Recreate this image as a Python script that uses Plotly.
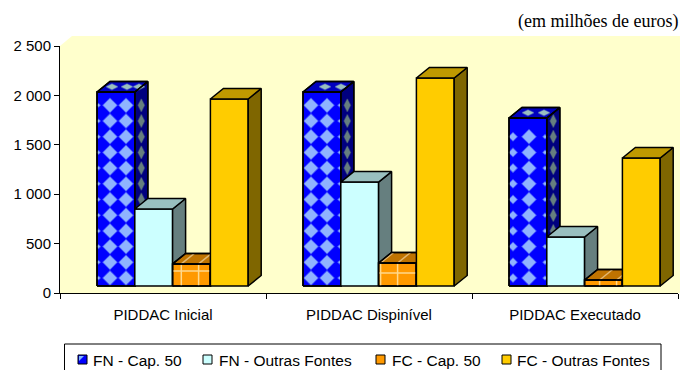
import plotly.graph_objects as go

# Chart data (millions of euros, as read on the value axis)
categories = ["PIDDAC Inicial", "PIDDAC Dispinível", "PIDDAC Executado"]
fn_cap50 = [2034, 2034, 1771]
fn_outras = [850, 1123, 567]
fc_cap50 = [294, 304, 132]
fc_outras = [1964, 2176, 1366]
series_names = ["FN - Cap. 50", "FN - Outras Fontes", "FC - Cap. 50", "FC - Outras Fontes"]
tick_values = [0, 500, 1000, 1500, 2000, 2500]
tick_labels = ["0", "500", "1 000", "1 500", "2 000", "2 500"]
unit_note = "(em milhões de euros)"

series_values = [fn_cap50, fn_outras, fc_cap50, fc_outras]

# Face colours of each series: front, side, top
front_colors = ["#0000FF", "#CCFFFF", "#FF9900", "#FFCC00"]
side_colors = ["#00007F", "#667F7F", "#7F4C00", "#7F6600"]
top_colors = ["#0000BF", "#99BFBF", "#BF7300", "#BF9900"]

# Plot area and the pseudo-3D projection
W, H = 680, 370
M_L, M_R, M_T, M_B = 60, 2, 46, 77
PLOT_W = W - M_L - M_R
PLOT_H = H - M_T - M_B
Y_MAX = 2500
PX_X = PLOT_W / 3.0       # pixels per category
PX_Y = PLOT_H / Y_MAX     # pixels per value unit
BAR_W = 37.8 / PX_X
BAR_START = -66 / PX_X
DEPTH_X = 13 / PX_X
DEPTH_Y = 10.5 / PX_Y
FLOOR = 7 / PX_Y          # bars stand slightly in front of the axis plane


def ux(px):
    return px / PX_X


def uy(px):
    return px / PX_Y


def paper_x(px):
    return (px - M_L) / PLOT_W


def paper_y(py):
    return (H - M_B - py) / PLOT_H


fig = go.Figure()


def polygon(xs, ys, fill, name):
    fig.add_trace(go.Scatter(
        x=xs + xs[:1], y=ys + ys[:1], mode="lines", fill="toself", fillcolor=fill,
        line=dict(color="#000000", width=1.5), name=name, showlegend=False, hoverinfo="skip"))


def outline(xs, ys):
    fig.add_trace(go.Scatter(
        x=xs + xs[:1], y=ys + ys[:1], mode="lines",
        line=dict(color="#000000", width=1.5), showlegend=False, hoverinfo="skip"))


def dots(xs, ys, sizes, symbol, color, halo):
    fig.add_trace(go.Scatter(
        x=xs, y=ys, mode="markers",
        marker=dict(symbol=symbol, size=sizes, color=color, line=dict(color=halo, width=1.5)),
        showlegend=False, hoverinfo="skip"))


def rule(xs, ys, color):
    fig.add_trace(go.Scatter(
        x=xs, y=ys, mode="lines", line=dict(color=color, width=1.5),
        showlegend=False, hoverinfo="skip", connectgaps=False))


# Texture placement inside the patterned bars, in pixels from the bar's left edge
DIAMOND_COLS = [[1.5, 13, 29], [8, 24, 36.5], [4, 20, 36]]
DIAMOND_TOPS = [[15, 30, 42], [22, 38], [19, 35]]
PLAID_COLS = [[8.7, 26], [2, 19], [15, 32]]
PLAID_ROWS = [7, 10, None]
ROW_STEP = 15.7
ROW_START = 8


def diamond_faces(left, top, g):
    right = left + BAR_W
    bar_px = BAR_W * PX_X
    # front face
    xs, ys, ss = [], [], []
    k = 0
    while True:
        y = FLOOR + uy(ROW_START + k * ROW_STEP)
        if y > top - uy(4):
            break
        for off in DIAMOND_COLS[g]:
            half = min(off, bar_px - off)
            xs.append(left + ux(off))
            ys.append(y)
            ss.append(max(1, min(10.5, 2 * half / 1.3)))
        k += 1
    dots(xs, ys, ss, "diamond", "#CCFFFF", "rgba(204,255,255,0.45)")
    # side face
    xs, ys = [], []
    k = 0
    while True:
        y = FLOOR + uy(ROW_START + k * ROW_STEP)
        if y > top + DEPTH_Y / 2 - uy(5):
            break
        xs.append(right + DEPTH_X / 2)
        ys.append(y)
        k += 1
    dots(xs, ys, 9, "diamond-tall", "#667F7F", "rgba(102,127,127,0.4)")
    # top face
    xs = [left + ux(off) for off in DIAMOND_TOPS[g]]
    ys = [top + DEPTH_Y / 2] * len(xs)
    dots(xs, ys, 8, "diamond-wide", "#99BFBF", "rgba(153,191,191,0.4)")


def plaid_faces(left, top, g):
    vx, vy, tx, ty = [], [], [], []
    for off in PLAID_COLS[g]:
        x = left + ux(off)
        vx += [x, x, None]
        vy += [FLOOR, top, None]
        tx += [x, x + DEPTH_X, None]
        ty += [top, top + DEPTH_Y, None]
    rule(vx, vy, "#FFD98C")
    rule(tx, ty, "#E3B871")
    if PLAID_ROWS[g] is not None:
        y = top - uy(PLAID_ROWS[g])
        rule([left, left + BAR_W], [y, y], "#FFD98C")


# Bars are painted back to front so nearer faces hide the side of the previous bar
for g in range(len(categories)):
    for s, values in enumerate(series_values):
        v = values[g]
        left = (g + 1) + BAR_START + s * BAR_W
        right = left + BAR_W
        name = series_names[s]

        fx = [left, right, right, left]
        fy = [FLOOR, FLOOR, v, v]
        sx = [right, right + DEPTH_X, right + DEPTH_X, right]
        sy = [FLOOR, FLOOR + DEPTH_Y, v + DEPTH_Y, v]
        tx = [left, right, right + DEPTH_X, left + DEPTH_X]
        ty = [v, v, v + DEPTH_Y, v + DEPTH_Y]

        polygon(fx, fy, front_colors[s], name)
        polygon(sx, sy, side_colors[s], name)
        polygon(tx, ty, top_colors[s], name)
        if s == 0:
            diamond_faces(left, v, g)
        elif s == 2:
            plaid_faces(left, v, g)
        if s in (0, 2):
            outline(fx, fy)
            outline(sx, sy)
            outline(tx, ty)

# Chart wall and floor behind the bars
shapes = [dict(
    type="path", xref="paper", yref="paper", layer="below", line=dict(width=0),
    fillcolor="#FFFFCC",
    path="M {} {} L {} {} L {} {} L {} {} L {} {} Z".format(
        paper_x(60), paper_y(293), paper_x(60), paper_y(46), paper_x(72), paper_y(36),
        paper_x(680), paper_y(36), paper_x(680), paper_y(293)))]

# Legend frame, swatches and entries
shapes.append(dict(type="rect", xref="paper", yref="paper", layer="above",
                   x0=paper_x(64.5), x1=paper_x(661), y0=paper_y(344), y1=paper_y(380),
                   line=dict(color="#000000", width=1), fillcolor="rgba(0,0,0,0)"))
swatch_x = [78, 203, 376, 502]
text_x = [93, 219, 392, 517]
annotations = []
for i, name in enumerate(series_names):
    x0 = swatch_x[i]
    shapes.append(dict(type="rect", xref="paper", yref="paper", layer="above",
                       x0=paper_x(x0), x1=paper_x(x0 + 9), y0=paper_y(355), y1=paper_y(364),
                       line=dict(color="#000000", width=1), fillcolor=front_colors[i]))
    if i == 0:
        shapes.append(dict(
            type="path", xref="paper", yref="paper", layer="above", line=dict(width=0),
            fillcolor="#7FB8FF",
            path="M {} {} L {} {} L {} {} Z".format(
                paper_x(x0 + 1), paper_y(356), paper_x(x0 + 6), paper_y(356),
                paper_x(x0 + 1), paper_y(361))))
    annotations.append(dict(
        text=name, xref="paper", yref="paper", x=paper_x(text_x[i]), y=paper_y(360),
        xanchor="left", yanchor="middle", showarrow=False, xshift=-2,
        font=dict(family="Liberation Sans", size=15.5, color="#000000")))

# Unit note above the plot
annotations.append(dict(
    text=unit_note, xref="paper", yref="paper", x=paper_x(678), y=paper_y(22),
    xanchor="right", yanchor="middle", showarrow=False, xshift=2,
    font=dict(family="Liberation Serif", size=18, color="#000000")))

fig.update_layout(
    width=W, height=H, autosize=False,
    margin=dict(l=M_L, r=M_R, t=M_T, b=M_B, pad=0),
    paper_bgcolor="#FFFFFF", plot_bgcolor="rgba(0,0,0,0)",
    showlegend=False, shapes=shapes, annotations=annotations,
    xaxis=dict(
        range=[0.5, 3.5], tickmode="array", tickvals=[1, 2, 3], ticktext=categories,
        ticks="outside", ticklen=8, tickcolor="rgba(0,0,0,0)", showgrid=False, zeroline=False,
        showline=True, linecolor="#000000", linewidth=1, fixedrange=True,
        tickfont=dict(family="Liberation Sans", size=15, color="#000000"),
        minor=dict(tickmode="array", tickvals=[0.5, 1.5, 2.5, 3.5], ticks="outside",
                   ticklen=5, tickcolor="#000000", tickwidth=1, showgrid=False)),
    yaxis=dict(
        range=[0, Y_MAX], tickmode="array", tickvals=tick_values, ticktext=tick_labels,
        ticks="outside", ticklen=5, tickcolor="#000000", tickwidth=1, showgrid=False,
        zeroline=False, showline=True, linecolor="#000000", linewidth=1, fixedrange=True,
        tickfont=dict(family="Liberation Sans", size=15, color="#000000")),
)

fig.write_html("out.html", config=dict(displayModeBar=False))
